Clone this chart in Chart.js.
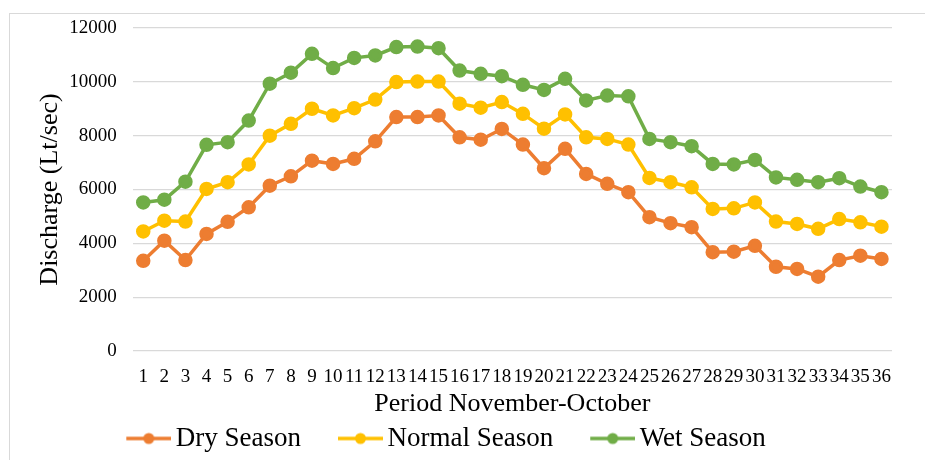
<!DOCTYPE html>
<html>
<head>
<meta charset="utf-8">
<script src="https://cdn.jsdelivr.net/npm/chart.js@4.4.1/dist/chart.umd.min.js"></script>
<style>
  body { margin: 0; background: #fff; overflow: hidden; }
  #box { position: absolute; left: 9px; top: 13px; width: 1000px; height: 600px; border: 1px solid #d9d9d9; }
  #chart { display: block; }
</style>
</head>
<body>
<div id="box"><canvas id="chart" width="900" height="448"></canvas></div>
<script>
var periods = [];
for (var p = 1; p <= 36; p++) periods.push(String(p));

var dryValues = [3350, 4100, 3380, 4350, 4800, 5340, 6140, 6490, 7070, 6950, 7140, 7790,
  8690, 8690, 8750, 7940, 7850, 8250, 7670, 6790, 7510, 6580, 6210, 5900,
  4970, 4750, 4600, 3670, 3690, 3910, 3130, 3050, 2760, 3380, 3540, 3420];
var normalValues = [4440, 4840, 4810, 6020, 6270, 6930, 8000, 8440, 9000, 8750, 9020, 9340,
  9990, 10010, 10010, 9190, 9040, 9250, 8810, 8260, 8790, 7940, 7880, 7670,
  6430, 6270, 6080, 5280, 5300, 5520, 4810, 4720, 4540, 4900, 4780, 4620];
var wetValues = [5520, 5620, 6290, 7660, 7760, 8560, 9930, 10340, 11040, 10510, 10890, 10980,
  11290, 11310, 11250, 10420, 10300, 10210, 9890, 9700, 10110, 9310, 9490, 9460,
  7880, 7760, 7610, 6950, 6930, 7100, 6450, 6360, 6270, 6420, 6110, 5900];
var yTicks = [0, 2000, 4000, 6000, 8000, 10000, 12000];

var seriesNames = ['Dry Season', 'Normal Season', 'Wet Season'];
var seriesColors = ['#ED7D31', '#FFC000', '#70AD47'];

// legend marker: line with a dot, drawn at the right end of a wider transparent image
function legendMarker(color) {
  var c = document.createElement('canvas');
  c.width = 89; c.height = 14;
  var g = c.getContext('2d');
  g.strokeStyle = color;
  g.lineWidth = 3.5;
  g.beginPath(); g.moveTo(44, 7); g.lineTo(89, 7); g.stroke();
  g.fillStyle = color;
  g.beginPath(); g.arc(66.5, 7, 5.5, 0, Math.PI * 2); g.fill();
  return c;
}
var markers = seriesColors.map(legendMarker);

function makeSet(i, data) {
  return {
    label: seriesNames[i],
    data: data,
    borderColor: seriesColors[i],
    backgroundColor: seriesColors[i],
    borderWidth: 3.5,
    pointRadius: 5.5,
    pointHoverRadius: 5.5,
    tension: 0
  };
}

var legendShift = {
  id: 'legendShift',
  afterLayout: function(chart) {
    chart.legend.left -= 35;
    chart.legend.right -= 35;
  }
};

var serif = 'Liberation Serif, Times New Roman, serif';

new Chart(document.getElementById('chart'), {
  type: 'line',
  data: {
    labels: periods,
    datasets: [makeSet(0, dryValues), makeSet(1, normalValues), makeSet(2, wetValues)]
  },
  plugins: [legendShift],
  options: {
    responsive: false,
    animation: false,
    layout: { padding: { left: 25, right: 18, top: 14, bottom: 0 } },
    plugins: {
      tooltip: { enabled: false },
      legend: {
        position: 'bottom',
        labels: {
          usePointStyle: true,
          pointStyleWidth: 71,
          padding: 2,
          color: '#000',
          font: { family: serif, size: 27 },
          generateLabels: function(chart) {
            return chart.data.datasets.map(function(ds, i) {
              return {
                text: ds.label,
                pointStyle: markers[i],
                fillStyle: ds.borderColor,
                strokeStyle: ds.borderColor,
                lineWidth: 0,
                fontColor: '#000',
                datasetIndex: i
              };
            });
          }
        }
      }
    },
    scales: {
      x: {
        offset: true,
        grid: { display: false, drawTicks: false },
        border: { display: false },
        ticks: {
          autoSkip: false, maxRotation: 0, padding: 15, color: '#000',
          font: { family: serif, size: 19 }
        },
        title: {
          display: true, text: 'Period November-October', color: '#000',
          font: { family: serif, size: 26 }, padding: { top: -15, bottom: 3 }
        }
      },
      y: {
        min: 0, max: 12000,
        afterBuildTicks: function(axis) {
          axis.ticks = yTicks.map(function(v) { return { value: v }; });
        },
        grid: { color: '#d9d9d9', lineWidth: 1.2, drawTicks: true, tickLength: 16, tickColor: 'rgba(0,0,0,0)' },
        border: { display: false },
        ticks: {
          padding: 0, color: '#000',
          font: { family: serif, size: 19 },
          callback: function(v) { return String(v); }
        },
        title: {
          display: true, text: 'Discharge (Lt/sec)', color: '#000',
          font: { family: serif, size: 26 }, padding: { top: 0, bottom: 3 }
        }
      }
    }
  }
});
</script>
</body>
</html>
